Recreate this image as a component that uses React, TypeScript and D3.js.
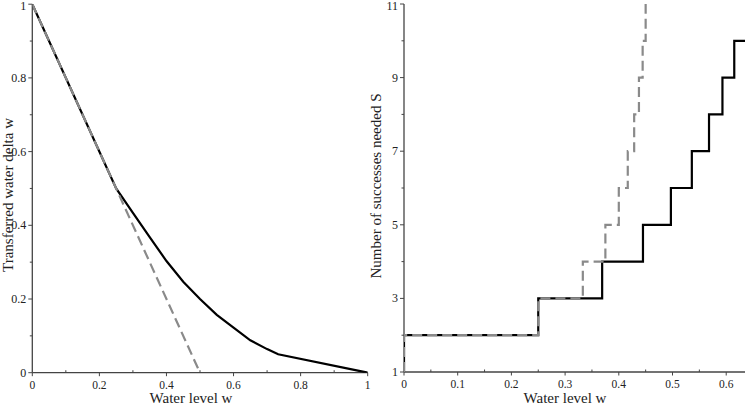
import React, { useEffect, useRef } from 'react';
import * as d3 from 'd3';

// left panel: transferred water vs water level
const levelA = [0, 0.25, 0.3, 0.35, 0.4, 0.45, 0.5, 0.55, 0.6, 0.65, 0.7, 0.733, 1];
const transferA = [1, 0.5, 0.434, 0.368, 0.303, 0.247, 0.2, 0.157, 0.122, 0.088, 0.064, 0.05, 0];
const levelB = [0, 0.5];
const transferB = [1, 0];

// right panel: successes needed vs water level (step functions)
const stepLevelA = [0, 0, 0.25, 0.369, 0.445, 0.497, 0.536, 0.568, 0.593, 0.615, 0.64];
const stepCountA = [1, 2, 3, 4, 5, 6, 7, 8, 9, 10, 10];
const stepLevelB = [0, 0, 0.25, 0.333, 0.375, 0.4, 0.4167, 0.4286, 0.4375, 0.4444, 0.45, 0.45];
const stepCountB = [1, 2, 3, 4, 5, 6, 7, 8, 9, 10, 11, 11];

const leftXTicks = [0, 0.2, 0.4, 0.6, 0.8, 1];
const leftYTicks = [0, 0.2, 0.4, 0.6, 0.8, 1];
const rightXTicks = [0, 0.1, 0.2, 0.3, 0.4, 0.5, 0.6];
const rightYTicks = [1, 3, 5, 7, 9, 11];

const W = 745, H = 406;
const FONT = '"Liberation Serif", "Times New Roman", serif';
const AXIS = '#444';
const GRAY = '#8a8a8a';

const App = () => {
  const ref = useRef<SVGSVGElement>(null);

  useEffect(() => {
    const svg = d3.select(ref.current);
    svg.selectAll('*').remove();

    const panel = (opts: any) => {
      const { x, y, xTicks, yTicks, xMinor, yMinor, xLabel, xLabelX, yLabel, yLabelX, yLabelY, series, clipId } = opts;
      const [x0, x1] = x.range();
      const [y0, y1] = y.range();

      svg.append('clipPath').attr('id', clipId)
        .append('rect').attr('x', x0).attr('y', y1).attr('width', x1 - x0).attr('height', y0 - y1);

      const g = svg.append('g');

      // x axis
      g.append('line').attr('x1', x0).attr('x2', x1).attr('y1', y0).attr('y2', y0)
        .attr('stroke', AXIS).attr('stroke-width', 1.3);
      xMinor.forEach((v: number) => {
        g.append('line').attr('x1', x(v)).attr('x2', x(v)).attr('y1', y0).attr('y2', y0 - 2.5)
          .attr('stroke', AXIS).attr('stroke-width', 1);
      });
      xTicks.forEach((v: number) => {
        g.append('line').attr('x1', x(v)).attr('x2', x(v)).attr('y1', y0).attr('y2', y0 + 3.5)
          .attr('stroke', AXIS).attr('stroke-width', 1);
        g.append('text').attr('x', x(v)).attr('y', y0 + 16).attr('text-anchor', 'middle')
          .attr('font-family', FONT).attr('font-size', 11.5).attr('fill', '#222').text(String(v));
      });

      // y axis
      g.append('line').attr('x1', x0).attr('x2', x0).attr('y1', y0).attr('y2', y1)
        .attr('stroke', AXIS).attr('stroke-width', 1.3);
      yMinor.forEach((v: number) => {
        g.append('line').attr('x1', x0).attr('x2', x0 - 2.5).attr('y1', y(v)).attr('y2', y(v))
          .attr('stroke', AXIS).attr('stroke-width', 1);
      });
      yTicks.forEach((v: number) => {
        g.append('line').attr('x1', x0).attr('x2', x0 - 4).attr('y1', y(v)).attr('y2', y(v))
          .attr('stroke', AXIS).attr('stroke-width', 1);
        g.append('text').attr('x', x0 - 6).attr('y', Math.max(y(v) + 4, 10)).attr('text-anchor', 'end')
          .attr('font-family', FONT).attr('font-size', 12).attr('fill', '#222').text(String(v));
      });

      // axis titles
      g.append('text').attr('x', xLabelX).attr('y', y0 + 30.5).attr('text-anchor', 'middle')
        .attr('font-family', FONT).attr('font-size', 15).attr('fill', '#222').text(xLabel);
      g.append('text').attr('transform', `translate(${yLabelX},${yLabelY}) rotate(-90)`)
        .attr('text-anchor', 'middle').attr('font-family', FONT).attr('font-size', 15).attr('fill', '#222')
        .text(yLabel);

      // series
      const plot = svg.append('g').attr('clip-path', `url(#${clipId})`);
      series.forEach((s: any) => {
        const pts = s.xs.map((v: number, i: number) => [v, s.ys[i]]);
        const line = d3.line<number[]>().x(d => x(d[0])).y(d => y(d[1])).curve(s.curve);
        plot.append('path').attr('d', line(pts)).attr('fill', 'none')
          .attr('stroke', s.color).attr('stroke-width', 2.2)
          .attr('stroke-dasharray', s.dash || null)
          .attr('stroke-linejoin', 'miter').attr('stroke-linecap', 'butt');
      });
    };

    // left panel
    const xl = d3.scaleLinear().domain([0, 1]).range([32.3, 367.7]);
    const yl = d3.scaleLinear().domain([0, 1]).range([372.7, 4.2]);
    panel({
      x: xl, y: yl, clipId: 'clipL',
      xTicks: leftXTicks, yTicks: leftYTicks,
      xMinor: d3.range(1, 10, 2).map(d => d / 10), yMinor: d3.range(1, 10, 2).map(d => d / 10),
      xLabel: 'Water level w', xLabelX: 191,
      yLabel: 'Transferred water delta w', yLabelX: 12.5, yLabelY: 195,
      series: [
        { xs: levelA, ys: transferA, color: '#000', curve: d3.curveLinear },
        { xs: levelB, ys: transferB, color: GRAY, dash: '10,5', curve: d3.curveLinear },
      ],
    });

    // right panel
    const xr = d3.scaleLinear().domain([0, 0.635]).range([404, 745]);
    const yr = d3.scaleLinear().domain([1, 11]).range([372, 4]);
    panel({
      x: xr, y: yr, clipId: 'clipR',
      xTicks: rightXTicks, yTicks: rightYTicks,
      xMinor: d3.range(1, 13, 2).map(d => d / 20), yMinor: [2, 4, 6, 8, 10],
      xLabel: 'Water level w', xLabelX: 565,
      yLabel: 'Number of successes needed S', yLabelX: 381, yLabelY: 186,
      series: [
        { xs: stepLevelA, ys: stepCountA, color: '#000', curve: d3.curveStepAfter },
        { xs: stepLevelB, ys: stepCountB, color: GRAY, dash: '10,5', curve: d3.curveStepAfter },
      ],
    });
  }, []);

  return (
    <svg ref={ref} width={W} height={H}
      style={{ position: 'absolute', left: 0, top: 0, background: '#fff' }} />
  );
};

export default App;
